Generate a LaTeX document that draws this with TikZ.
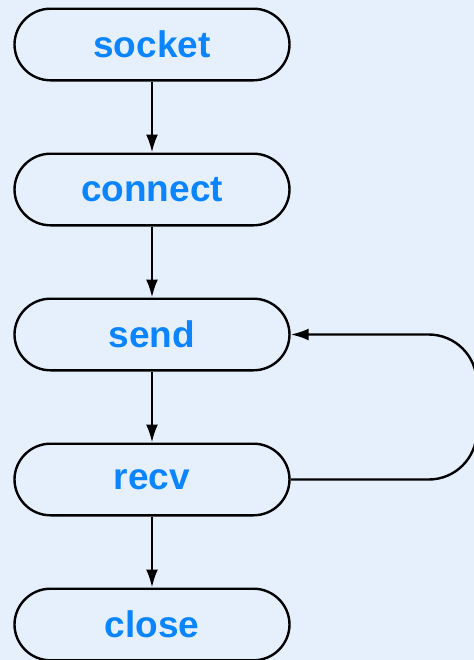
\documentclass[tikz,border=0pt]{standalone}
\usepackage{fontspec}
\setmainfont{Liberation Sans}
\usetikzlibrary{positioning,arrows.meta}
\definecolor{fond}{HTML}{E6F0FC}
\definecolor{texte}{HTML}{0A84FF}
\tikzset{
  etape/.style={draw, line width=1.2pt, rounded corners=18pt, minimum width=137.5pt, minimum height=35.8pt, inner sep=0pt, text=texte, font=\fontsize{18.5}{22}\selectfont\bfseries},
  fleche/.style={line width=1.2pt, -{Latex[length=9pt,width=6pt]}}
}
\begin{document}
\begin{tikzpicture}
        % fond
        \fill[fond] (0,0) rectangle (237pt,-330pt);
        \useasboundingbox (0,0) rectangle (237pt,-330pt);

        % dessin des etapes
        \node[etape] (socket) at (76pt,-22.25pt) {socket};
        \node[etape, below=35.5pt of socket] (connect) {connect};
        \node[etape, below=35.5pt of connect] (send) {send};
        \node[etape, below=35.5pt of send] (recv) {recv};
        \node[etape, below=35.5pt of recv] (close) {close};

        % liens entre les etapes
        \draw[fleche] (socket) -- (connect);
        \draw[fleche] (connect) -- (send);
        \draw[fleche] (send) -- (recv);
        \draw[fleche] (recv) -- (close);

        % boucle recv vers send
        \draw[fleche, rounded corners=24pt] (recv.east) -- ++(93pt,0) |- (send.east);
\end{tikzpicture}
\end{document}
